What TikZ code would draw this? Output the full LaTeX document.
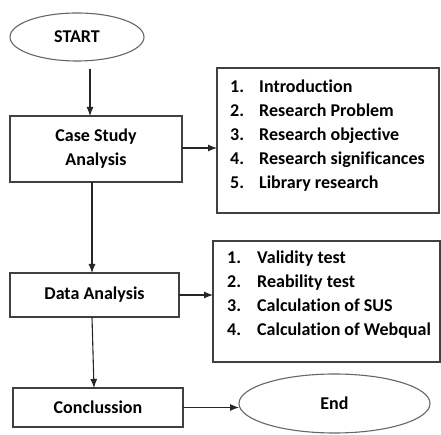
\documentclass[tikz,border=0pt]{standalone}
\usepackage{fontspec}
\setmainfont{Carlito}[Ligatures=NoCommon]
\usetikzlibrary{arrows,arrows.meta,shapes,positioning,calc}

\begin{document}
\begin{tikzpicture}[font=\fontsize{18}{24}\selectfont\bfseries,
	box/.style={rectangle, draw=black!75, line width=1.1pt, align=center, inner sep=0pt, outer sep=0pt},
	oval/.style={ellipse, draw=black!60, line width=1.1pt, inner sep=0pt, outer sep=0pt},
	items/.style={inner sep=0pt, anchor=north west, align=left},
	flow/.style={-{Latex[length=9pt,width=7pt]}, draw=black!85, line width=1.1pt}]
	\useasboundingbox (0pt,0pt) rectangle (441pt,435pt);

	\node (start) [oval, minimum width=134pt, minimum height=48pt] at (77pt,398pt) {START};

	\node (csa) [box, minimum width=172pt, minimum height=66pt] at (96pt,286pt) {Case Study\\Analysis};
	\node (list1) [box, minimum width=222pt, minimum height=145pt] at (328pt,294.5pt) {};
	\node (items1) [items] at ([shift={(13pt,-8pt)}]list1.north west) {%
		\begin{tabular}{@{}p{29pt}@{}l@{}}
		1. & Introduction\\
		2. & Research Problem\\
		3. & Research objective\\
		4. & Research significances\\
		5. & Library research
		\end{tabular}};

	\node (da) [box, minimum width=169pt, minimum height=44pt] at (94.5pt,140pt) {Data Analysis};
	\node (list2) [box, minimum width=227pt, minimum height=121pt] at (326.5pt,133.5pt) {};
	\node (items2) [items] at ([shift={(14pt,-6pt)}]list2.north west) {%
		\begin{tabular}{@{}p{30pt}@{}l@{}}
		1. & Validity test\\
		2. & Reability test\\
		3. & Calculation of SUS\\
		4. & Calculation of Webqual
		\end{tabular}};

	\node (concl) [box, minimum width=170pt, minimum height=39pt] at (98pt,27.5pt) {Conclussion};
	\node (end) [oval, minimum width=191pt, minimum height=59pt] at (334.5pt,31.5pt) {End};

	\draw [flow] ([xshift=13pt,yshift=-8pt]start.south) -- ([xshift=-6pt]csa.north);
	\draw [flow] (csa.east |- 0,287pt) -- (list1.west |- 0,287pt);
	\draw [flow] ([xshift=-4pt]csa.south) -- ([xshift=-2.5pt]da.north);
	\draw [flow] (da.east) -- (da.east -| list2.west);
	\draw [flow] ([xshift=-2.5pt]da.south) -- ([xshift=-4pt]concl.north);
	\draw [flow] (concl.east) -- (concl.east -| end.west);
\end{tikzpicture}
\end{document}
